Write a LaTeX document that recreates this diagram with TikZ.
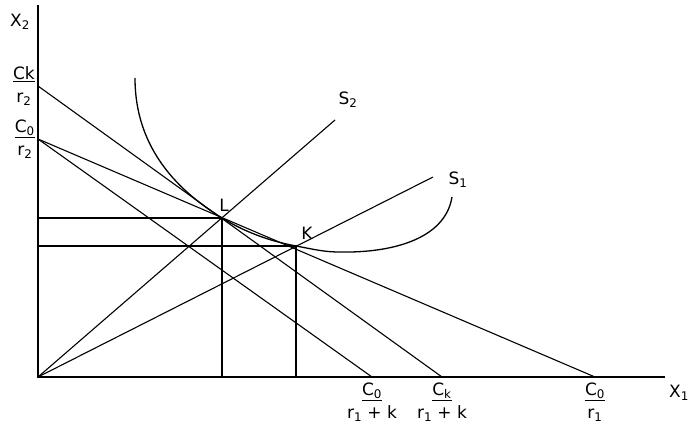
\documentclass[tikz,border=0pt]{standalone}
\usepackage{fontspec}
\setmainfont{DejaVu Sans}
\usetikzlibrary{positioning}
\begin{document}
\begin{tikzpicture}[
    x=1pt,y=-1pt,
    axis/.style ={line width=2.2pt},
    guide/.style={line width=2pt},
    budget/.style={line width=1.1pt},
    ray/.style  ={line width=1.1pt},
    curve/.style={line width=1.3pt},
    lbl/.style  ={font=\fontsize{17}{23}\selectfont,inner sep=1pt},
    frac/.style ={lbl,align=center},
  ]
  \useasboundingbox (0,0) rectangle (692,427);

  %% Axes
  \coordinate (O)    at (38,377);
  \coordinate (ytop) at (38,5);
  \coordinate (xend) at (665,377);
  \draw[axis] (ytop) -- (O) -- (xend);
  \node[lbl] (xtwo) at (20,22) {X\textsubscript{2}};
  \node[lbl] (xone) at (679,393) {X\textsubscript{1}};

  %% Intercepts
  \coordinate (ckr2)  at (38,86);
  \coordinate (cor2)  at (38,139);
  \coordinate (corik) at (372,377);
  \coordinate (ckrik) at (442,377);
  \coordinate (cori)  at (595,377);

  %% Points of tangency
  \coordinate (L) at (222,218);
  \coordinate (K) at (296,246);

  %% Budget lines
  \draw[budget] (ckr2) -- (ckrik);
  \draw[budget] (cor2) -- (corik);
  \draw[budget] (cor2) -- (cori);

  %% Guides to the axes
  \draw[guide] (O |- L) -- (L) -- (L |- O);
  \draw[guide] (O |- K) -- (K) -- (K |- O);

  %% Expansion paths
  \coordinate (stwoend) at (335,120);
  \coordinate (soneend) at (433,177);
  \draw[ray] (O) -- (stwoend);
  \draw[ray] (O) -- (soneend);
  \node[lbl] (stwo) at (348,100) {S\textsubscript{2}};
  \node[lbl] (sone) at (458,180) {S\textsubscript{1}};

  %% Indifference curve
  \draw[curve] (135,78) .. controls (135,150) and (180,192) .. (L)
    .. controls (250,235) and (275,242) .. (K)
    .. controls (317,250) and (325,252) .. (340,252)
    .. controls (390,253) and (445,240) .. (452,197);

  \node[lbl] (lL) at (224,205) {L};
  \node[lbl] (lK) at (307,233) {K};

  %% Axis labels
  \node[frac,anchor=east] (fckr2) at ([xshift=-2]ckr2)
    {\underline{Ck}\\r\textsubscript{2}};
  \node[frac,anchor=east] (fcor2) at ([xshift=-2]cor2)
    {\underline{C\textsubscript{0}}\\r\textsubscript{2}};
  \node[frac,below=5pt of corik] (fcorik)
    {\underline{C\textsubscript{0}}\\r\textsubscript{1} + k};
  \node[frac,below=5pt of ckrik] (fckrik)
    {\underline{C\textsubscript{k}}\\r\textsubscript{1} + k};
  \node[frac,below=5pt of cori] (fcori)
    {\underline{C\textsubscript{0}}\\r\textsubscript{1}};
\end{tikzpicture}
\end{document}
